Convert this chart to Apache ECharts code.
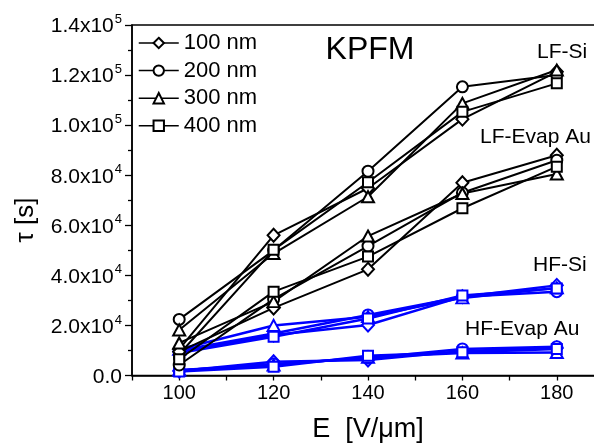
<!DOCTYPE html>
<html>
<head>
<meta charset="utf-8">
<script src="https://cdn.jsdelivr.net/npm/echarts@6/dist/echarts.min.js"></script>
<style>
  html, body { margin: 0; padding: 0; background: #fff; }
  #chart { width: 594px; height: 445px; }
</style>
</head>
<body>
<div id="chart"></div>
<script>
// Applied field E [V/µm]
const fieldE = [100, 120, 140, 160, 180];

// Film thicknesses and their marker shapes
const thickness = ['100 nm', '200 nm', '300 nm', '400 nm'];
const markers = ['emptyDiamond', 'emptyCircle', 'emptyTriangle', 'emptyRect'];

// Time constant tau [s]; one row per thickness (100, 200, 300, 400 nm)
const lfSi = [
  [10500, 56000, 74800, 102400, 121300],
  [22400, 50000, 81600, 115300, 120000],
  [18200, 48700, 71400, 108700, 122000],
  [8500, 50200, 77200, 105300, 116700]
];
const lfEvapAu = [
  [9500, 27000, 42400, 77000, 88000],
  [4200, 30500, 51700, 73000, 86000],
  [13000, 29500, 55700, 72700, 80500],
  [6500, 33500, 47500, 66800, 83400]
];
const hfSi = [
  [9500, 16200, 20200, 31500, 36000],
  [10000, 16800, 24200, 31500, 33500],
  [10500, 20000, 23500, 31000, 35000],
  [9000, 15500, 22800, 32000, 34800]
];
const hfEvapAu = [
  [1800, 5500, 6200, 9800, 11000],
  [2000, 4600, 7000, 10600, 11500],
  [2200, 4200, 7300, 9000, 9200],
  [1600, 3500, 7900, 9300, 10600]
];

// Y tick range and step
const yTicks = { min: 0, max: 140000, step: 20000 };

const FONT = 'Liberation Sans, Arial, sans-serif';
const symbolSizes = [[12, 13], 11, [12, 11], 10];

function makeSeries(group, color, width, z) {
  return group.map((row, i) => ({
    name: thickness[i],
    type: 'line',
    z: z,
    data: fieldE.map((e, k) => [e, row[k]]),
    symbol: markers[i],
    symbolSize: symbolSizes[i],
    lineStyle: { color: color, width: width },
    itemStyle: { color: color, borderColor: color, borderWidth: 1.3 },
    emphasis: { disabled: true }
  }));
}

function sciLabel(v) {
  if (v === 0) return '{m|0.0}';
  const e = Math.floor(Math.log10(v) + 1e-9);
  const m = (v / Math.pow(10, e)).toFixed(1);
  return '{m|' + m + 'x10}{s|' + e + '}';
}

const chart = echarts.init(document.getElementById('chart'), null, { renderer: 'canvas' });

chart.setOption({
  animation: false,
  backgroundColor: '#fff',
  textStyle: { fontFamily: FONT, color: '#000' },
  grid: {
    left: 132, top: 25, width: 472, height: 350.5,
    outerBoundsMode: 'none', containLabel: false,
    show: true, borderColor: '#000', borderWidth: 1.5, backgroundColor: 'transparent'
  },
  legend: {
    data: thickness,
    orient: 'vertical',
    left: 133, top: 27,
    itemWidth: 40, itemHeight: 13, itemGap: 5.6,
    itemStyle: { borderWidth: 1 },
    lineStyle: { width: 1.5 },
    textStyle: { fontFamily: FONT, fontSize: 22, color: '#000' },
    selectedMode: false
  },
  xAxis: {
    type: 'value',
    min: 90, max: 190, interval: 10,
    axisLine: { lineStyle: { color: '#000', width: 1.5 } },
    axisTick: { length: 5, lineStyle: { color: '#000', width: 1.3 } },
    axisLabel: {
      margin: 8, fontSize: 20, color: '#000', fontFamily: FONT,
      formatter: v => (v % 20 === 0 ? String(v) : '')
    },
    splitLine: { show: false },
    name: 'E  [V/\u03bcm]',
    nameLocation: 'middle',
    nameGap: 41,
    nameTextStyle: { fontSize: 27, color: '#000', fontFamily: FONT }
  },
  yAxis: {
    type: 'value',
    min: yTicks.min, max: yTicks.max, interval: yTicks.step,
    axisLine: { show: true, lineStyle: { color: '#000', width: 1.5 } },
    axisTick: { show: true, length: 7, lineStyle: { color: '#000', width: 1.3 } },
    minorTick: { show: true, splitNumber: 2, length: 4, lineStyle: { color: '#000', width: 1.3 } },
    axisLabel: {
      margin: 10, color: '#000', fontFamily: FONT,
      formatter: sciLabel,
      rich: {
        m: { fontSize: 21, fontFamily: FONT, color: '#000', padding: [3, 0, 0, 0] },
        s: { fontSize: 13, fontFamily: FONT, color: '#000', verticalAlign: 'top', padding: [0, 0, 8, 1] }
      }
    },
    splitLine: { show: false }
  },
  graphic: [
    { type: 'text', x: 26, y: 220, rotation: Math.PI / 2,
      style: { text: '\u03c4 [s]', fontSize: 26, fontFamily: FONT, fill: '#000', align: 'center', verticalAlign: 'middle' } },
    { type: 'text', x: 370, y: 50,
      style: { text: 'KPFM', fontSize: 32, fontFamily: FONT, fill: '#000', align: 'center', verticalAlign: 'middle' } },
    { type: 'text', x: 537, y: 52,
      style: { text: 'LF-Si', fontSize: 21, fontFamily: FONT, fill: '#000', align: 'left', verticalAlign: 'middle' } },
    { type: 'text', x: 480, y: 137,
      style: { text: 'LF-Evap Au', fontSize: 21, fontFamily: FONT, fill: '#000', align: 'left', verticalAlign: 'middle' } },
    { type: 'text', x: 533, y: 265,
      style: { text: 'HF-Si', fontSize: 21, fontFamily: FONT, fill: '#000', align: 'left', verticalAlign: 'middle' } },
    { type: 'text', x: 465, y: 329,
      style: { text: 'HF-Evap Au', fontSize: 21, fontFamily: FONT, fill: '#000', align: 'left', verticalAlign: 'middle' } }
  ],
  series: [
    ...makeSeries(lfSi, '#000', 2, 3),
    ...makeSeries(lfEvapAu, '#000', 2, 3),
    ...makeSeries(hfSi, '#0000ff', 2.5, 2),
    ...makeSeries(hfEvapAu, '#0000ff', 2.5, 2)
  ]
});
</script>
</body>
</html>
